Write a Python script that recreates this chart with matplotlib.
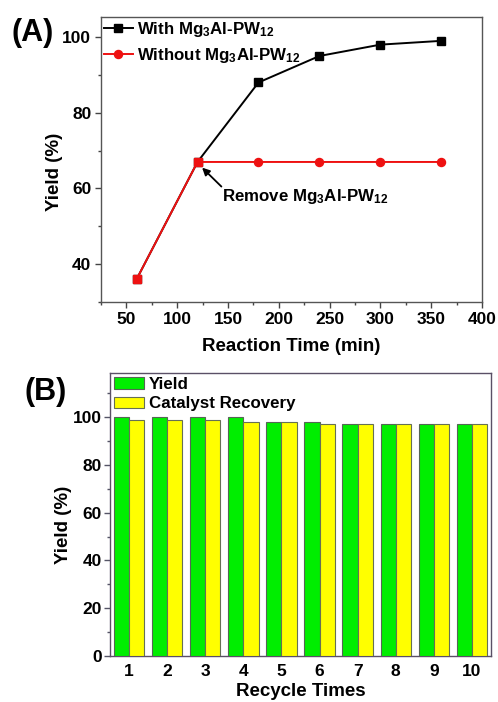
import matplotlib
matplotlib.use("Agg")
import matplotlib.pyplot as plt
from matplotlib.lines import Line2D
from matplotlib.ticker import MultipleLocator
import numpy as np

# ---- data ----
time_with = [60, 120, 180, 240, 300, 360]
yield_with = [36, 67, 88, 95, 98, 99]
time_without = [60, 120, 180, 240, 300, 360]
yield_without = [36, 67, 67, 67, 67, 67]

recycle_times = list(range(1, 11))
recycle_yield = [100, 100, 100, 100, 98, 98, 97, 97, 97, 97]
catalyst_recovery = [99, 99, 99, 98, 98, 97, 97, 97, 97, 97]

plt.rcParams['font.family'] = ['Liberation Sans', 'DejaVu Sans']
plt.rcParams['font.weight'] = 'bold'
plt.rcParams['axes.labelweight'] = 'bold'
plt.rcParams['mathtext.fontset'] = 'custom'
plt.rcParams['mathtext.rm'] = 'Liberation Sans:bold'
plt.rcParams['mathtext.bf'] = 'Liberation Sans:bold'
plt.rcParams['mathtext.default'] = 'bf'

LABEL_FS = 13.5
TICK_FS = 12.5
LEG_FS = 12.2
cat = r'Mg$_{3}$Al-PW$_{12}$'
RED = '#ee1111'
MS = 5.8

fig = plt.figure(figsize=(4.98, 7.02), dpi=100)

# ---------------- panel A ----------------
axA = fig.add_axes([101 / 498, 1 - 302 / 702, 381 / 498, 285 / 702])
axA.plot(time_with, yield_with, color='black', lw=1.4, marker='s', ms=MS,
         zorder=3)
axA.plot(time_without, yield_without, color=RED, lw=1.4, marker='o',
         ms=MS, markevery=slice(2, None), zorder=4)
axA.plot(time_without[:2], yield_without[:2], color=RED, ls='none',
         marker='s', ms=MS, zorder=5)

axA.set_xlim(25, 400)
axA.set_ylim(30, 105.3)
axA.set_xticks(np.arange(50, 401, 50))
axA.xaxis.set_minor_locator(MultipleLocator(25))
axA.set_yticks([40, 60, 80, 100])
axA.yaxis.set_minor_locator(MultipleLocator(10))
axA.set_xlabel('Reaction Time (min)', fontsize=LABEL_FS, fontweight='bold',
               labelpad=8)
axA.set_ylabel('Yield (%)', fontsize=LABEL_FS, fontweight='bold')
axA.yaxis.set_label_coords(-0.10, 0.456)
axA.tick_params(axis='both', which='major', direction='out', length=4,
                width=1, labelsize=TICK_FS, pad=3, color='#444444')
axA.tick_params(axis='both', which='minor', direction='out', length=2.5,
                width=1, color='#444444')
for sp in axA.spines.values():
    sp.set_color('#555555')
    sp.set_linewidth(1.0)
for lab in axA.get_xticklabels() + axA.get_yticklabels():
    lab.set_fontweight('bold')

handles_A = [
    Line2D([], [], color='black', lw=1.4, marker='s', ms=MS),
    Line2D([], [], color=RED, lw=1.4, marker='o', ms=MS),
]
axA.legend(handles_A, ['With ' + cat, 'Without ' + cat], loc='upper left',
           frameon=False, handlelength=1.75, handletextpad=0.25,
           labelspacing=0.45, borderaxespad=0.0, borderpad=0.15,
           prop={'weight': 'bold', 'size': LEG_FS})

# arrow pointing at the moment the catalyst is removed
axA.annotate('', xy=(124.5, 65.5), xytext=(143.5, 60.5),
             arrowprops=dict(arrowstyle='-|>', color='black', lw=1.3,
                             mutation_scale=11, shrinkA=0, shrinkB=0),
             zorder=6)
axA.text(144.5, 57.8, 'Remove ' + cat, fontsize=LEG_FS, fontweight='bold',
         va='center', ha='left', zorder=6)

fig.text(33 / 498, 1 - 33 / 702, '(A)', fontsize=22, fontweight='bold',
         ha='center', va='center')

# ---------------- panel B ----------------
axB = fig.add_axes([110 / 498, 1 - 656 / 702, 381 / 498, 283 / 702])
x = np.array(recycle_times)
w = 0.4
axB.bar(x - w / 2, recycle_yield, width=w, color='#00ee00',
        edgecolor='#556655', linewidth=0.8, label='Yield', zorder=3)
axB.bar(x + w / 2, catalyst_recovery, width=w, color='#ffff00',
        edgecolor='#667055', linewidth=0.8, label='Catalyst Recovery', zorder=3)
axB.set_xlim(0.5, 10.5)
axB.set_ylim(0, 118.5)
axB.set_xticks(recycle_times)
axB.set_yticks([0, 20, 40, 60, 80, 100])
axB.yaxis.set_minor_locator(MultipleLocator(10))
axB.set_xlabel('Recycle Times', fontsize=LABEL_FS, fontweight='bold',
               labelpad=2.5)
axB.set_ylabel('Yield (%)', fontsize=LABEL_FS, fontweight='bold')
axB.yaxis.set_label_coords(-0.10, 0.463)
axB.tick_params(axis='x', which='both', length=0, labelsize=TICK_FS, pad=6)
axB.tick_params(axis='y', which='major', direction='out', length=4,
                width=1, labelsize=TICK_FS, pad=2, color='#555566')
axB.tick_params(axis='y', which='minor', direction='out', length=2.5,
                width=1, color='#555566')
for sp in axB.spines.values():
    sp.set_color('#5a5066')
    sp.set_linewidth(1.0)
for lab in axB.get_xticklabels() + axB.get_yticklabels():
    lab.set_fontweight('bold')

axB.legend(loc='upper left', frameon=False, handlelength=1.75,
           handleheight=0.7, handletextpad=0.3, labelspacing=0.25,
           borderaxespad=0.1, borderpad=0.15,
           prop={'weight': 'bold', 'size': LEG_FS})

fig.text(46 / 498, 1 - 392 / 702, '(B)', fontsize=22, fontweight='bold',
         ha='center', va='center')

fig.savefig('out.png', dpi=100)
